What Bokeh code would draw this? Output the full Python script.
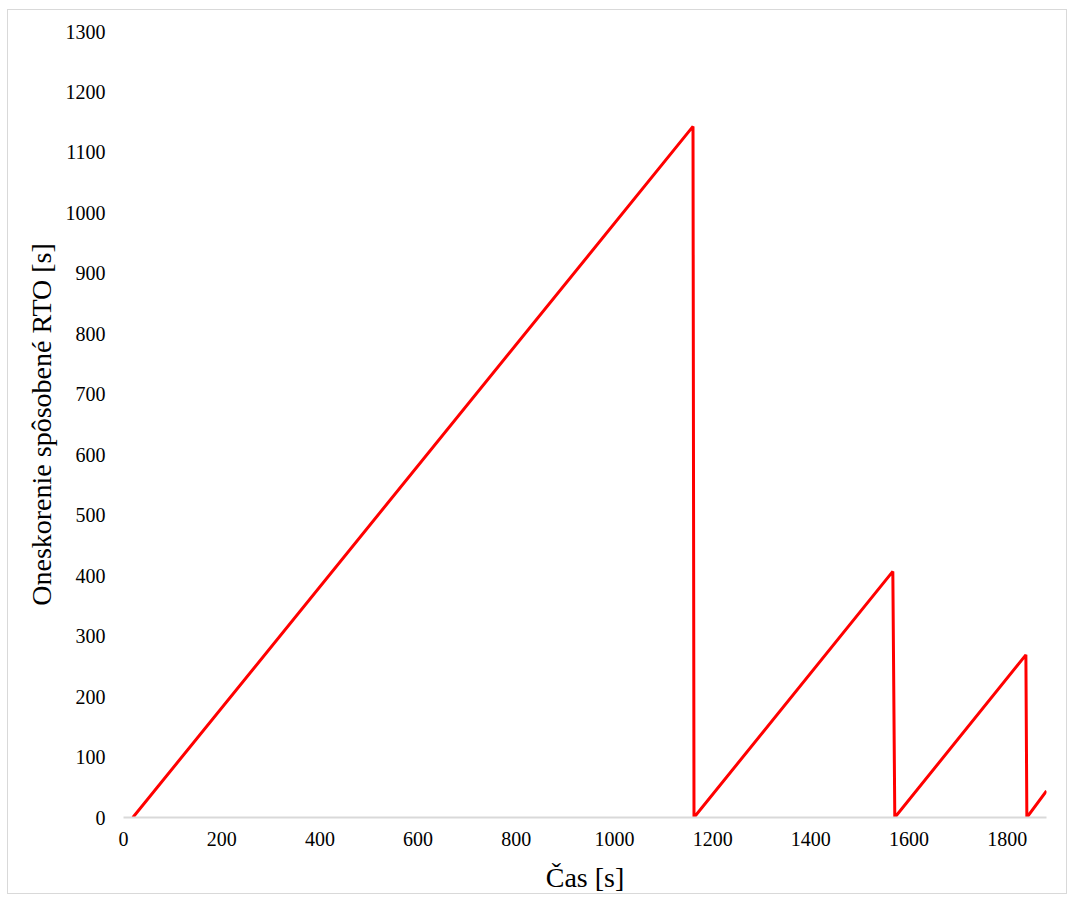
from bokeh.plotting import figure
from bokeh.models import FixedTicker, Range1d
from bokeh.embed import file_html
from bokeh.resources import INLINE

# Data
time_s = [19, 1160, 1162, 1567, 1571, 1838, 1840, 1880]
delay_s = [0, 1143, 0, 407, 0, 269, 0, 44]
x_ticks = [0, 200, 400, 600, 800, 1000, 1200, 1400, 1600, 1800]
y_ticks = [0, 100, 200, 300, 400, 500, 600, 700, 800, 900, 1000, 1100, 1200, 1300]
x_label = "Čas [s]"
y_label = "Oneskorenie spôsobené RTO [s]"

FONT = "Liberation Serif"

p = figure(width=1060, height=885, output_backend="svg", toolbar_location=None,
           x_range=Range1d(0, 1880), y_range=Range1d(0, 1300),
           min_border_left=115, min_border_right=22, min_border_top=21, min_border_bottom=75,
           styles={"border": "1px solid #d9d9d9", "margin-left": "7px", "margin-top": "9px"})
p.outline_line_color = None
p.grid.grid_line_color = None

p.line(time_s, delay_s, line_color="#ff0000", line_width=3)

p.xaxis.ticker = FixedTicker(ticks=x_ticks)
p.yaxis.ticker = FixedTicker(ticks=y_ticks)
for ax in (p.xaxis, p.yaxis):
    ax.major_tick_out = 0
    ax.major_tick_in = 0
    ax.minor_tick_out = 0
    ax.minor_tick_in = 0
    ax.major_label_text_font = FONT
    ax.major_label_text_font_size = "20px"
    ax.major_label_text_color = "#000000"
    ax.axis_label_text_font = FONT
    ax.axis_label_text_font_size = "28px"
    ax.axis_label_text_font_style = "normal"
    ax.axis_label_text_color = "#000000"

p.xaxis.axis_label = x_label
p.yaxis.axis_label = y_label
p.xaxis.axis_line_color = "#d9d9d9"
p.xaxis.axis_line_width = 2
p.yaxis.axis_line_color = None
p.xaxis.major_label_standoff = 14
p.yaxis.major_label_standoff = 18
p.xaxis.axis_label_standoff = 13
p.yaxis.axis_label_standoff = 6

open("out.html", "w").write(file_html(p, INLINE))
